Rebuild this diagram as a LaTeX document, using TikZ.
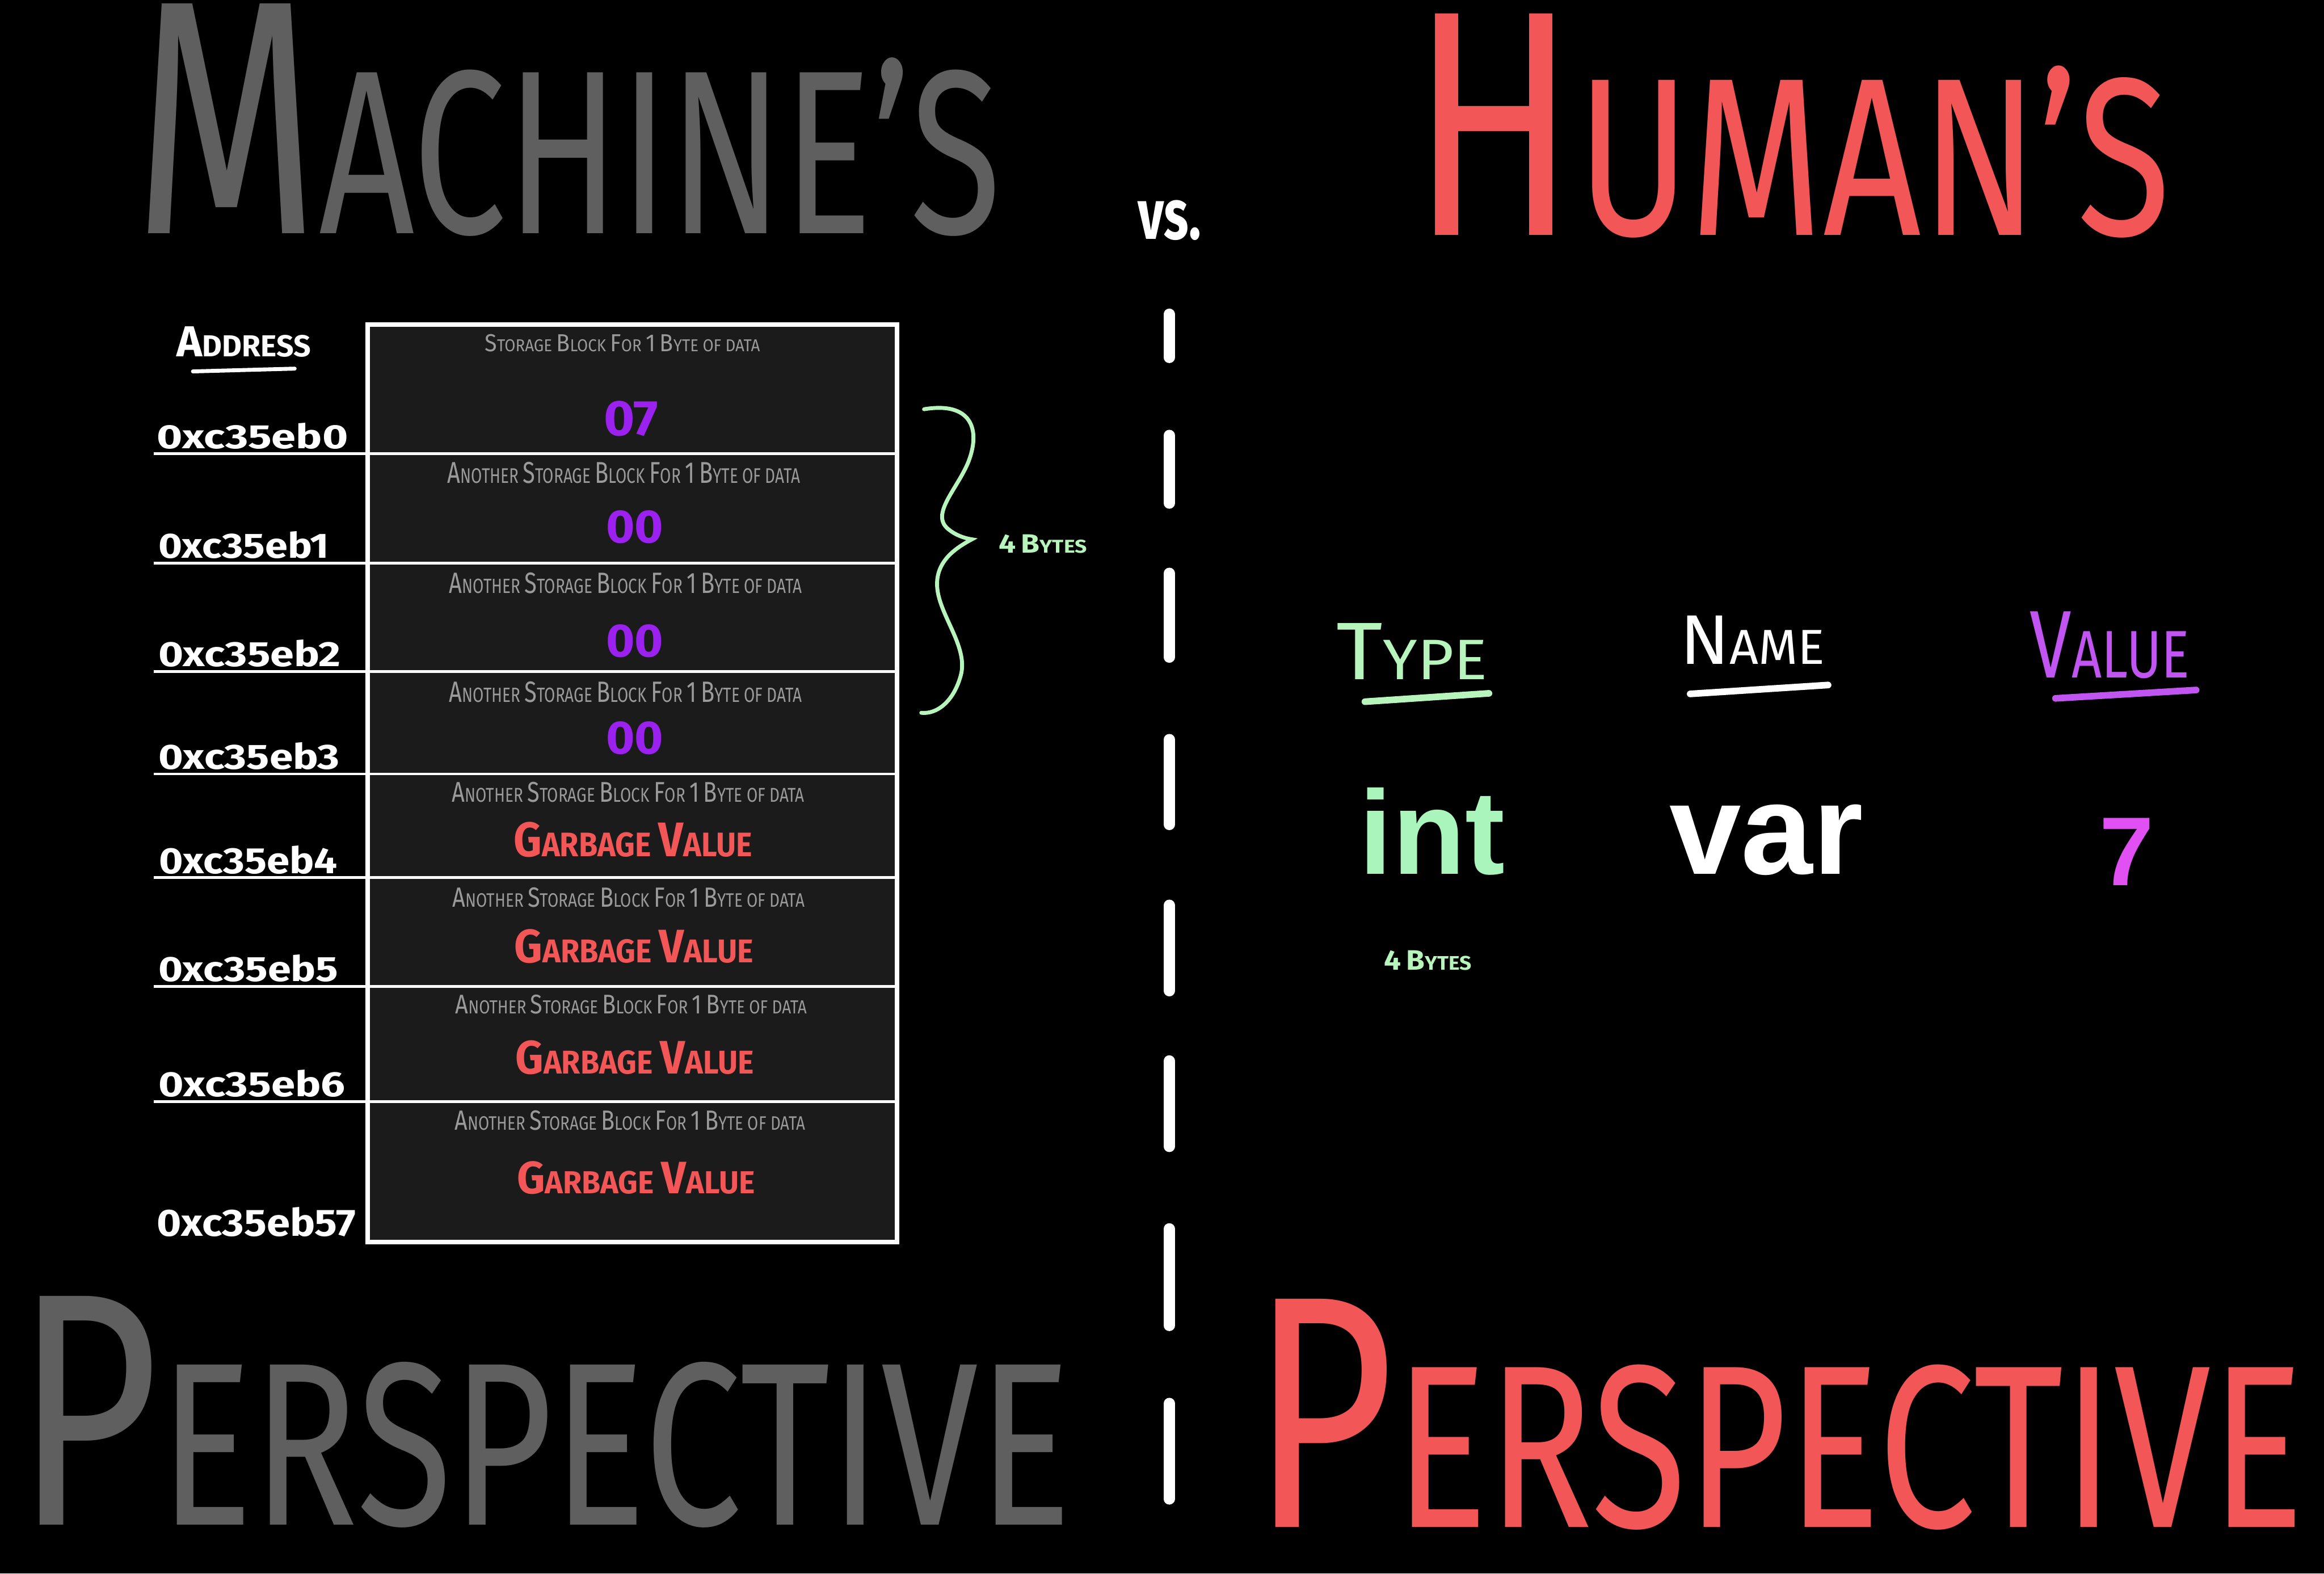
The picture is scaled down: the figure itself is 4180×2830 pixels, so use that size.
\documentclass[tikz,border=0pt]{standalone}
\usepackage{fontspec}
\usepackage{graphicx}
\setmainfont{Fira Sans}
\newfontfamily\arialf{Liberation Sans}
\newlength\pxu
\setlength\pxu{0.01cm}
\newcommand\fitbox[3]{\resizebox{#1\pxu}{#2\pxu}{#3}}
\newcommand\bs[2]{{\fontsize{10}{12}\selectfont #1\fontsize{7}{8}\selectfont #2}}
\newcommand\capA{\fontsize{7}{8}\selectfont\bs{A}{NOTHER} \bs{S}{TORAGE} \bs{B}{LOCK} \bs{F}{OR} \bs{1}{} \bs{B}{YTE} OF DATA}
\newcommand\capS{\fontsize{7}{8}\selectfont\bs{S}{TORAGE} \bs{B}{LOCK} \bs{F}{OR} \bs{1}{} \bs{B}{YTE} OF DATA}
\newcommand\garb{\bfseries\fontsize{7}{8}\selectfont\bs{G}{ARBAGE} \bs{V}{ALUE}}
\definecolor{tgray}{HTML}{5F5F5F}
\definecolor{hred}{HTML}{F25656}
\definecolor{vpurp}{HTML}{9B22EE}
\definecolor{lpurp}{HTML}{C055F2}
\definecolor{mag}{HTML}{E050F2}
\definecolor{lgreen}{HTML}{B8F5BC}
\definecolor{igreen}{HTML}{A9F5BC}
\definecolor{cellbg}{HTML}{1B1B1B}
\definecolor{capgray}{HTML}{9A9A9A}
\begin{document}
\begin{tikzpicture}[x=0.01cm,y=-0.01cm,
  txt/.style={inner sep=0pt,outer sep=0pt,anchor=south west},
  bigtxt/.style={inner sep=0pt,outer sep=0pt,anchor=base},
  divider/.style={draw=white,line width=1.4pt},
  dashseg/.style={draw=white,line width=5.7pt,line cap=round},
  uline/.style={line width=3.4pt,line cap=round}]
\fill[black] (0,0) rectangle (4180,2830);
\useasboundingbox (0,0) rectangle (4180,2830);

% titles
\node[txt,text=tgray] (machine) at (240,425) {\fitbox{1560}{413}{\bs{M}{ACHINE'S}}};
\node[txt,text=hred] (human) at (2537,428) {\fitbox{1366}{398}{\bs{H}{UMAN'S}}};
\node[txt,text=white] (vs) at (2047,432) {\fitbox{113}{70}{\bfseries vs.}};
\node[txt,text=tgray] (perspL) at (27,2748) {\fitbox{1899}{411}{\bs{P}{ERSPECTIVE}}};
\node[txt,text=hred] (perspR) at (2250,2752) {\fitbox{1893}{410}{\bs{P}{ERSPECTIVE}}};

% dashed separator
\foreach \a/\b in {555/653,773/915,1021/1192,1320/1493,1618/1792,1898/2072,2200/2394,2514/2706}
  \draw[dashseg] (2103,\a+10) -- (2103,\b-10);

% memory table
\draw[fill=cellbg,draw=white,line width=2.3pt] (661,584) rectangle (1613,2234);
\foreach \y in {816,1013,1208,1392,1578,1774,1981}
  \draw[divider] (277,\y) -- (1609,\y);

% address header
\node[txt,text=white] (addrhead) at (318,642) {\fitbox{241}{54}{\bfseries \bs{A}{DDRESS}}};
\draw[white,uline,line width=2pt] (347,668) -- (530,663);

% addresses
\node[txt,text=white] (a0) at (282,808) {\fitbox{344}{46}{\bfseries 0xc35eb0}};
\node[txt,text=white] (a1) at (285,1005) {\fitbox{307}{48}{\bfseries 0xc35eb1}};
\node[txt,text=white] (a2) at (285,1200) {\fitbox{328}{48}{\bfseries 0xc35eb2}};
\node[txt,text=white] (a3) at (285,1384) {\fitbox{326}{48}{\bfseries 0xc35eb3}};
\node[txt,text=white] (a4) at (286,1572) {\fitbox{321}{50}{\bfseries 0xc35eb4}};
\node[txt,text=white] (a5) at (285,1766) {\fitbox{323}{48}{\bfseries 0xc35eb5}};
\node[txt,text=white] (a6) at (285,1973) {\fitbox{336}{48}{\bfseries 0xc35eb6}};
\node[txt,text=white] (a7) at (282,2224) {\fitbox{358}{52}{\bfseries 0xc35eb57}};

% captions
\node[txt,text=capgray] (c1) at (872,633) {\fitbox{495}{31}{\capS}};
\node[txt,text=capgray] (c2) at (805,870) {\fitbox{634}{38}{\capA}};
\node[txt,text=capgray] (c3) at (808,1068) {\fitbox{634}{37}{\capA}};
\node[txt,text=capgray] (c4) at (808,1263) {\fitbox{634}{37}{\capA}};
\node[txt,text=capgray] (c5) at (813,1443) {\fitbox{634}{36}{\capA}};
\node[txt,text=capgray] (c6) at (814,1632) {\fitbox{633}{35}{\capA}};
\node[txt,text=capgray] (c7) at (819,1824) {\fitbox{632}{34}{\capA}};
\node[txt,text=capgray] (c8) at (818,2033) {\fitbox{630}{35}{\capA}};

% values
\node[txt,text=vpurp] (v1) at (1086,785) {\fitbox{98}{62}{\bfseries 07}};
\node[txt,text=vpurp] (v2) at (1090,978) {\fitbox{103}{58}{\bfseries 00}};
\node[txt,text=vpurp] (v3) at (1090,1183) {\fitbox{103}{58}{\bfseries 00}};
\node[txt,text=vpurp] (v4) at (1090,1357) {\fitbox{103}{58}{\bfseries 00}};
\node[txt,text=hred] (v5) at (924,1542) {\fitbox{429}{62}{\garb}};
\node[txt,text=hred] (v6) at (925,1733) {\fitbox{430}{60}{\garb}};
\node[txt,text=hred] (v7) at (927,1933) {\fitbox{429}{60}{\garb}};
\node[txt,text=hred] (v8) at (930,2148) {\fitbox{428}{58}{\garb}};

% brace
\draw[lgreen,line width=2pt,line cap=round]
  (1662,736) .. controls (1745,722) and (1765,770) .. (1742,830)
  .. controls (1722,880) and (1672,925) .. (1706,952)
  .. controls (1718,962) and (1734,968) .. (1748,970)
  .. controls (1720,985) and (1680,1010) .. (1686,1060)
  .. controls (1692,1110) and (1742,1165) .. (1728,1215)
  .. controls (1715,1262) and (1685,1285) .. (1657,1282);
\node[txt,text=lgreen] (bytesL) at (1797,995) {\fitbox{158}{33}{\bfseries\fontsize{7}{8}\selectfont\bs{4}{} \bs{B}{YTES}}};

% human side headers
\node[txt,text=lgreen] (type) at (2404,1222) {\fitbox{271}{101}{\bs{T}{YPE}}};
\draw[lgreen,uline] (2455,1262) -- (2678,1247);
\node[txt,text=white] (name) at (3022,1195) {\fitbox{260}{87}{\bs{N}{AME}}};
\draw[white,uline] (3040,1248) -- (3288,1232);
\node[txt,text=lpurp] (value) at (3651,1220) {\fitbox{287}{119}{\bs{V}{ALUE}}};
\draw[lpurp,uline] (3697,1256) -- (3950,1241);

% int var 7
\node[bigtxt,text=igreen] (int) at (2576,1572) {\arialf\bfseries\fontsize{61}{61}\selectfont int};
\node[bigtxt,text=white] (var) at (3177,1572) {\arialf\bfseries\fontsize{66}{66}\selectfont var};
\node[bigtxt,text=mag] (seven) at (3825,1592) {\arialf\bfseries\fontsize{50}{50}\selectfont 7};
\node[txt,text=lgreen] (bytesR) at (2490,1745) {\fitbox{157}{35}{\bfseries\fontsize{7}{8}\selectfont\bs{4}{} \bs{B}{YTES}}};
\end{tikzpicture}
\end{document}
